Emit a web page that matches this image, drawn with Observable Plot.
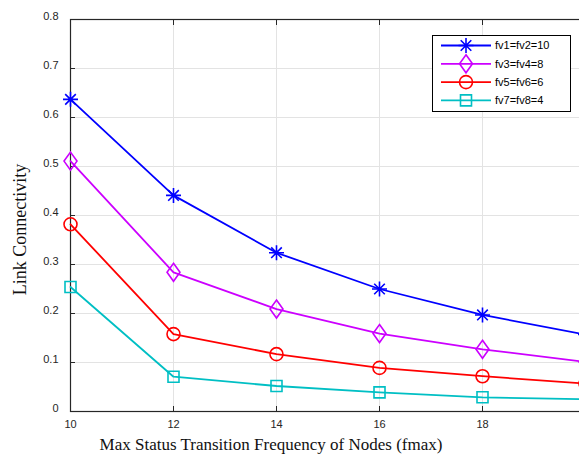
<!DOCTYPE html>
<html>
<head>
<meta charset="utf-8">
<script src="https://cdn.jsdelivr.net/npm/d3@7"></script>
<script src="https://cdn.jsdelivr.net/npm/@observablehq/plot@0.6"></script>
<style>
  html, body { margin: 0; padding: 0; background: #fff; overflow: hidden; }
  #wrap { position: relative; width: 579px; height: 454px; overflow: hidden; }
  #wrap > svg { max-width: none !important; }
</style>
</head>
<body>
<div id="wrap"></div>
<script>
const fmax = [10, 12, 14, 16, 18, 20];
const fv10 = [0.637, 0.441, 0.324, 0.250, 0.197, 0.157];
const fv8  = [0.511, 0.284, 0.209, 0.159, 0.127, 0.101];
const fv6  = [0.382, 0.158, 0.117, 0.089, 0.072, 0.057];
const fv4  = [0.254, 0.071, 0.052, 0.039, 0.029, 0.025];
const seriesNames = ["fv1=fv2=10", "fv3=fv4=8", "fv5=fv6=6", "fv7=fv8=4"];
const seriesValues = [fv10, fv8, fv6, fv4];
const colors = ["#0000ff", "#cc00ff", "#ff0000", "#00bfc4"];
const xTicks = [10, 12, 14, 16, 18, 20];
const yTicks = [0, 0.1, 0.2, 0.3, 0.4, 0.5, 0.6, 0.7, 0.8];
const xTitle = "Max Status Transition Frequency of Nodes (fmax)";
const yTitle = "Link Connectivity";

const data = [];
seriesNames.forEach((s, i) => fmax.forEach((x, j) => data.push({series: s, x, y: seriesValues[i][j]})));

const rad = size => Math.sqrt(size / Math.PI);
const symAsterisk = { draw(c, size) { const r = rad(size), d = r * 0.7071;
  c.moveTo(-r, 0); c.lineTo(r, 0); c.moveTo(0, -r); c.lineTo(0, r);
  c.moveTo(-d, -d); c.lineTo(d, d); c.moveTo(-d, d); c.lineTo(d, -d); } };
const symDiamond = { draw(c, size) { const r = rad(size), w = r * 0.72;
  c.moveTo(0, -r); c.lineTo(w, 0); c.lineTo(0, r); c.lineTo(-w, 0); c.closePath(); } };
const symCircle = { draw(c, size) { const r = rad(size);
  c.moveTo(r, 0); c.arc(0, 0, r, 0, 2 * Math.PI); } };
const symSquare = { draw(c, size) { const r = rad(size);
  c.rect(-r, -r, 2 * r, 2 * r); } };
const symbols = [symAsterisk, symDiamond, symCircle, symSquare];
const radii = [7.5, 9, 6.5, 5.5];

const axisColor = "#262626";
const fontSans = "'Liberation Sans', Arial, sans-serif";
const fontSerif = "'Liberation Serif', 'Times New Roman', serif";

const marks = [
  Plot.gridX(xTicks, {stroke: "#e3e3e3", strokeOpacity: 1, strokeWidth: 1}),
  Plot.gridY(yTicks, {stroke: "#e3e3e3", strokeOpacity: 1, strokeWidth: 1}),
  Plot.frame({stroke: axisColor, strokeWidth: 1.2}),
  Plot.axisY(yTicks, {label: null, tickSize: 0, tickPadding: 12, dy: -3, fill: axisColor, fontSize: 11,
    tickFormat: d => d === 0 ? "0" : d.toFixed(1)}),
  Plot.axisY(yTicks, {label: null, tickSize: -5, tickFormat: () => "", stroke: axisColor}),
  Plot.axisX(xTicks, {label: null, tickSize: 0, tickPadding: 9, fill: axisColor, fontSize: 11}),
  Plot.axisX(xTicks, {label: null, tickSize: -5, tickFormat: () => "", stroke: axisColor}),
  Plot.axisX(xTicks, {label: null, anchor: "top", tickSize: -5, tickFormat: () => "", stroke: axisColor}),
  Plot.line(data, {x: "x", y: "y", z: "series", stroke: d => colors[seriesNames.indexOf(d.series)], strokeWidth: 1.8})
];
seriesNames.forEach((s, i) => {
  marks.push(Plot.dot(data.filter(d => d.series === s), {
    x: "x", y: "y", r: radii[i], symbol: symbols[i], stroke: colors[i], strokeWidth: 1.6, fill: "none"
  }));
});
marks.push(Plot.text([yTitle], {frameAnchor: "left", rotate: -90, dx: -50, dy: 14,
  fontSize: 18, fontFamily: fontSerif, fill: "#111", textAnchor: "middle", lineAnchor: "middle"}));
marks.push(Plot.text([xTitle], {frameAnchor: "bottom", dx: -57, dy: 33,
  fontSize: 17, fontFamily: fontSerif, fill: "#111", textAnchor: "middle", lineAnchor: "middle"}));

const chart = Plot.plot({
  width: 600,
  height: 454,
  marginLeft: 70,
  marginRight: 15,
  marginTop: 19,
  marginBottom: 43,
  style: {fontFamily: fontSans, fontSize: "11px", background: "#fff", maxWidth: "none"},
  x: {domain: [10, 20], axis: null},
  y: {domain: [0, 0.8], axis: null},
  marks
});
chart.style.maxWidth = "none";
chart.setAttribute("width", 600);
const wrap = document.getElementById("wrap");
wrap.appendChild(chart);

// Legend (HTML overlay)
const ns = "http://www.w3.org/2000/svg";
const lw = 139, lh = 77;
const leg = document.createElementNS(ns, "svg");
leg.setAttribute("width", lw);
leg.setAttribute("height", lh);
leg.style.position = "absolute";
leg.style.left = "432px";
leg.style.top = "35px";
const box = document.createElementNS(ns, "rect");
box.setAttribute("x", 0.5); box.setAttribute("y", 0.5);
box.setAttribute("width", lw - 1); box.setAttribute("height", lh - 1);
box.setAttribute("fill", "#fff"); box.setAttribute("stroke", "#000"); box.setAttribute("stroke-width", 1);
leg.appendChild(box);
seriesNames.forEach((s, i) => {
  const cy = 10.5 + i * 18.3;
  const line = document.createElementNS(ns, "line");
  line.setAttribute("x1", 9); line.setAttribute("x2", 59);
  line.setAttribute("y1", cy); line.setAttribute("y2", cy);
  line.setAttribute("stroke", colors[i]); line.setAttribute("stroke-width", 1.8);
  leg.appendChild(line);
  const p = d3.path();
  symbols[i].draw(p, Math.PI * radii[i] * radii[i]);
  const path = document.createElementNS(ns, "path");
  path.setAttribute("d", p.toString());
  path.setAttribute("transform", `translate(34,${cy})`);
  path.setAttribute("fill", "none"); path.setAttribute("stroke", colors[i]); path.setAttribute("stroke-width", 1.6);
  leg.appendChild(path);
  const t = document.createElementNS(ns, "text");
  t.setAttribute("x", 63); t.setAttribute("y", cy);
  t.setAttribute("dy", "0.35em");
  t.setAttribute("font-family", fontSans); t.setAttribute("font-size", 11);
  t.setAttribute("fill", "#000");
  t.textContent = s;
  leg.appendChild(t);
});
wrap.appendChild(leg);
</script>
</body>
</html>
